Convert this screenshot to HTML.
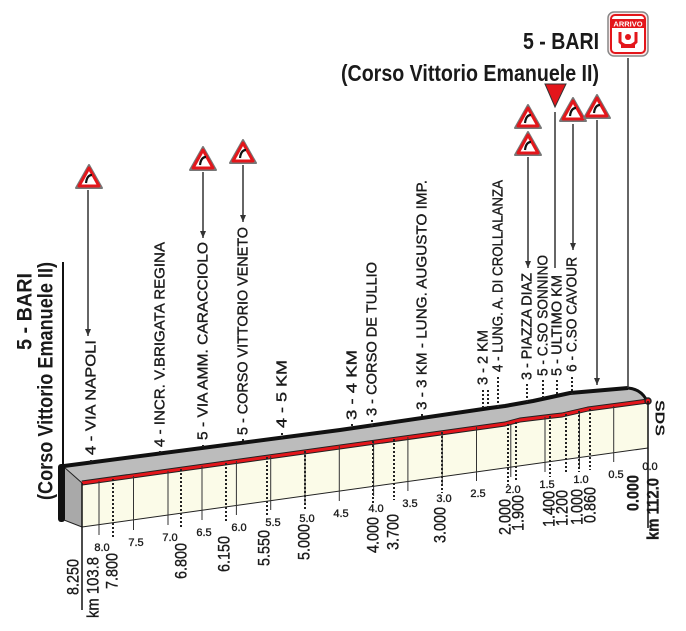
<!DOCTYPE html>
<html><head><meta charset="utf-8"><style>
html,body{margin:0;padding:0;background:#fff;}
svg{display:block;}
text{font-family:"Liberation Sans",sans-serif;fill:#1a1a1a;}
.t,.v,.k{stroke:#1a1a1a;stroke-width:0.35px;}
.t{font-size:15px;}
.v{font-size:17px;}
.k{font-size:11px;}
.b{font-weight:bold;}
</style></head><body>
<svg width="686" height="631" viewBox="0 0 686 631" xmlns="http://www.w3.org/2000/svg">
<defs>
<marker id="ar" markerWidth="7" markerHeight="6" refX="7" refY="3" orient="auto" markerUnits="userSpaceOnUse"><path d="M0,0 L7,3 L0,6 Z" fill="#333"/></marker>
<g id="sg">
<path d="M0,-13 L13,10 L-13,10 Z" fill="#fff" stroke="#777" stroke-width="2" stroke-linejoin="round"/>
<path d="M0,-10 L10,8 L-10,8 Z" fill="#fff" stroke="#e3161b" stroke-width="3" stroke-linejoin="round"/>
<path d="M-3,5 Q-2,-3 3,-3" fill="none" stroke="#111" stroke-width="2.2"/>
</g>
</defs>

<line x1="63" y1="262" x2="63" y2="466" stroke="#111" stroke-width="2"/>
<text class="b" transform="translate(25,350) rotate(-90)" font-size="21" textLength="77" lengthAdjust="spacingAndGlyphs" dominant-baseline="central">5 - BARI</text>
<text class="b" transform="translate(46,500) rotate(-90)" font-size="21" textLength="238" lengthAdjust="spacingAndGlyphs" dominant-baseline="central">(Corso Vittorio Emanuele II)</text>

<text class="b" x="523" y="49" font-size="23" textLength="76" lengthAdjust="spacingAndGlyphs">5 - BARI</text>
<text class="b" x="341" y="81" font-size="23" textLength="258" lengthAdjust="spacingAndGlyphs">(Corso Vittorio Emanuele II)</text>

<polygon points="82,483 505,424 520,420 553,416 562,415 588,409 648,401 648,448 82,527" fill="#fbfbe8"/>
<polygon points="64,466 340,430 490,408 505,406 533,401 570,393 628,388 640,391 648,400 588,409 562,415 553,416 520,420 505,424 82,483" fill="#bcbcbc"/>
<polygon points="64,467 82,483 82,527 64,520" fill="#a9a9a9" stroke="#222" stroke-width="1"/>
<rect x="58" y="464" width="7" height="58" rx="3" fill="#111"/>
<polyline points="64,466 340,430 490,408 505,406 533,401 570,393 628,388" fill="none" stroke="#111" stroke-width="4" stroke-linejoin="round"/>
<path d="M628,388 Q640,389 646,399" fill="none" stroke="#111" stroke-width="3"/>
<polyline points="82,483 505,424 520,420 553,416 562,415 588,409 648,401" fill="none" stroke="#222" stroke-width="5" stroke-linejoin="round"/>
<polyline points="82,483 505,424 520,420 553,416 562,415 588,409 648,401" fill="none" stroke="#e3161b" stroke-width="3" stroke-linejoin="round"/>
<circle cx="648" cy="401" r="3" fill="#e3161b" stroke="#222" stroke-width="1.5"/>
<line x1="82" y1="527" x2="648" y2="448" stroke="#222" stroke-width="1"/>
<line x1="82" y1="483" x2="82" y2="610" stroke="#111" stroke-width="1.5"/>
<line x1="648" y1="401" x2="648" y2="528" stroke="#111" stroke-width="1.5"/>

<g stroke="#333" stroke-width="1">
<line x1="99" y1="481" x2="99" y2="535"/><line x1="133.5" y1="476" x2="133.5" y2="530"/>
<line x1="168" y1="471" x2="168" y2="525"/><line x1="202" y1="466" x2="202" y2="520"/>
<line x1="236.4" y1="461" x2="236.4" y2="515"/><line x1="270.7" y1="456" x2="270.7" y2="510"/>
<line x1="305" y1="451" x2="305" y2="505"/><line x1="339.3" y1="446" x2="339.3" y2="501"/>
<line x1="373.6" y1="441" x2="373.6" y2="496"/><line x1="407.9" y1="437" x2="407.9" y2="491"/>
<line x1="442.2" y1="432" x2="442.2" y2="486"/><line x1="476.5" y1="427" x2="476.5" y2="481"/>
<line x1="510.8" y1="424" x2="510.8" y2="477"/><line x1="545" y1="417" x2="545" y2="472"/>
<line x1="579.4" y1="411" x2="579.4" y2="467"/><line x1="613.7" y1="406" x2="613.7" y2="462"/>
</g>
<g class="k" text-anchor="middle">
<text x="102" y="551">8.0</text><text x="136" y="546">7.5</text><text x="170" y="541">7.0</text>
<text x="204" y="536">6.5</text><text x="239" y="531">6.0</text><text x="273" y="526">5.5</text>
<text x="307" y="522">5.0</text><text x="341" y="517">4.5</text><text x="376" y="512">4.0</text>
<text x="410" y="507">3.5</text><text x="444" y="502">3.0</text><text x="478" y="497">2.5</text>
<text x="513" y="493">2.0</text><text x="547" y="488">1.5</text><text x="581" y="483">1.0</text>
<text x="616" y="478">0.5</text><text x="650" y="470">0.0</text>
</g>

<g stroke="#222" stroke-width="2" stroke-dasharray="2,2">
<line x1="113" y1="479" x2="113" y2="539"/><line x1="181" y1="469" x2="181" y2="529"/>
<line x1="226" y1="463" x2="226" y2="522"/><line x1="267" y1="457" x2="267" y2="516"/>
<line x1="305" y1="451" x2="305" y2="510"/><line x1="373" y1="441" x2="373" y2="503"/>
<line x1="394" y1="439" x2="394" y2="500"/><line x1="442" y1="432" x2="442" y2="493"/>
<line x1="508" y1="424" x2="508" y2="485"/><line x1="516" y1="422" x2="516" y2="481"/>
<line x1="550" y1="416" x2="550" y2="477"/><line x1="566" y1="414" x2="566" y2="474"/>
<line x1="579" y1="411" x2="579" y2="472"/><line x1="590" y1="409" x2="590" y2="470"/>
</g>

<g class="v" dominant-baseline="central">
<text transform="translate(73,595) rotate(-90)" textLength="36" lengthAdjust="spacingAndGlyphs">8.250</text>
<text transform="translate(93,618) rotate(-90)" textLength="61" lengthAdjust="spacingAndGlyphs">km 103.8</text>
<text transform="translate(112,589) rotate(-90)" textLength="36" lengthAdjust="spacingAndGlyphs">7.800</text>
<text transform="translate(181,579) rotate(-90)" textLength="36" lengthAdjust="spacingAndGlyphs">6.800</text>
<text transform="translate(224,572) rotate(-90)" textLength="36" lengthAdjust="spacingAndGlyphs">6.150</text>
<text transform="translate(264,566) rotate(-90)" textLength="36" lengthAdjust="spacingAndGlyphs">5.550</text>
<text transform="translate(304,560) rotate(-90)" textLength="36" lengthAdjust="spacingAndGlyphs">5.000</text>
<text transform="translate(373,553) rotate(-90)" textLength="36" lengthAdjust="spacingAndGlyphs">4.000</text>
<text transform="translate(393,550) rotate(-90)" textLength="36" lengthAdjust="spacingAndGlyphs">3.700</text>
<text transform="translate(440,543) rotate(-90)" textLength="36" lengthAdjust="spacingAndGlyphs">3.000</text>
<text transform="translate(505,535) rotate(-90)" textLength="36" lengthAdjust="spacingAndGlyphs">2.000</text>
<text transform="translate(518,531) rotate(-90)" textLength="36" lengthAdjust="spacingAndGlyphs">1.900</text>
<text transform="translate(549,527) rotate(-90)" textLength="36" lengthAdjust="spacingAndGlyphs">1.400</text>
<text transform="translate(562,526) rotate(-90)" textLength="36" lengthAdjust="spacingAndGlyphs">1.200</text>
<text transform="translate(577,525) rotate(-90)" textLength="36" lengthAdjust="spacingAndGlyphs">1.000</text>
<text transform="translate(590,523) rotate(-90)" textLength="36" lengthAdjust="spacingAndGlyphs">0.860</text>
<text class="b" transform="translate(633,511) rotate(-90)" textLength="36" lengthAdjust="spacingAndGlyphs">0.000</text>
<text class="b" transform="translate(653,540) rotate(-90)" textLength="62" lengthAdjust="spacingAndGlyphs">km 112.0</text>
</g>
<text class="b" transform="translate(660,400) rotate(90)" font-size="13" textLength="36" lengthAdjust="spacingAndGlyphs" dominant-baseline="central">SDS</text>

<g stroke="#222" stroke-width="2" stroke-dasharray="2,2">
<line x1="91" y1="460" x2="91" y2="463"/><line x1="160" y1="451" x2="160" y2="454"/>
<line x1="203" y1="445" x2="203" y2="448"/><line x1="243" y1="439" x2="243" y2="443"/>
<line x1="282" y1="433" x2="282" y2="438"/><line x1="352" y1="424" x2="352" y2="428"/>
<line x1="372" y1="420" x2="372" y2="426"/><line x1="422" y1="414" x2="422" y2="418"/>
<line x1="483" y1="390" x2="483" y2="409"/><line x1="488" y1="390" x2="488" y2="408"/>
<line x1="498" y1="377" x2="498" y2="407"/><line x1="527" y1="384" x2="527" y2="402"/>
<line x1="543" y1="380" x2="543" y2="399"/><line x1="557" y1="380" x2="557" y2="396"/>
<line x1="572" y1="377" x2="572" y2="394"/>
</g>

<g class="t" dominant-baseline="central">
<text transform="translate(91,455) rotate(-90)" textLength="115" lengthAdjust="spacingAndGlyphs">4 - VIA NAPOLI</text>
<text transform="translate(160,447) rotate(-90)" textLength="205" lengthAdjust="spacingAndGlyphs">4 - INCR. V.BRIGATA REGINA</text>
<text transform="translate(203,440) rotate(-90)" textLength="198" lengthAdjust="spacingAndGlyphs">5 - VIA AMM. CARACCIOLO</text>
<text transform="translate(243,435) rotate(-90)" textLength="208" lengthAdjust="spacingAndGlyphs">5 - CORSO VITTORIO VENETO</text>
<text transform="translate(282,428) rotate(-90)" textLength="68" lengthAdjust="spacingAndGlyphs">4 - 5 KM</text>
<text transform="translate(352,420) rotate(-90)" textLength="70" lengthAdjust="spacingAndGlyphs">3 - 4 KM</text>
<text transform="translate(372,416) rotate(-90)" textLength="154" lengthAdjust="spacingAndGlyphs">3 - CORSO DE TULLIO</text>
<text transform="translate(422,410) rotate(-90)" textLength="230" lengthAdjust="spacingAndGlyphs">3 - 3 KM - LUNG. AUGUSTO IMP.</text>
<text transform="translate(483,385) rotate(-90)" textLength="55" lengthAdjust="spacingAndGlyphs">3 - 2 KM</text>
<text transform="translate(498,372) rotate(-90)" textLength="192" lengthAdjust="spacingAndGlyphs">4 - LUNG. A. DI CROLLALANZA</text>
<text transform="translate(527,380) rotate(-90)" textLength="107" lengthAdjust="spacingAndGlyphs">3 - PIAZZA DIAZ</text>
<text transform="translate(543,376) rotate(-90)" textLength="121" lengthAdjust="spacingAndGlyphs">5 - C.SO SONNINO</text>
<text transform="translate(557,376) rotate(-90)" textLength="101" lengthAdjust="spacingAndGlyphs">5 - ULTIMO KM</text>
<text transform="translate(572,372) rotate(-90)" textLength="115" lengthAdjust="spacingAndGlyphs">6 - C.SO CAVOUR</text>
</g>

<g stroke="#333" stroke-width="1.5">
<line x1="88" y1="190" x2="88" y2="336" marker-end="url(#ar)"/>
<line x1="203" y1="172" x2="203" y2="238" marker-end="url(#ar)"/>
<line x1="243" y1="165" x2="243" y2="222" marker-end="url(#ar)"/>
<line x1="528" y1="157" x2="528" y2="268" marker-end="url(#ar)"/>
<line x1="555" y1="112" x2="555" y2="268"/>
<line x1="573" y1="124" x2="573" y2="250" marker-end="url(#ar)"/>
<line x1="597" y1="120" x2="597" y2="385" marker-end="url(#ar)"/>
<line x1="628" y1="58" x2="628" y2="388"/>
</g>
<use href="#sg" x="89" y="178"/>
<use href="#sg" x="203" y="160"/>
<use href="#sg" x="243" y="153"/>
<use href="#sg" x="528" y="118"/>
<use href="#sg" x="528" y="145"/>
<use href="#sg" x="573" y="111"/>
<use href="#sg" x="597" y="108"/>
<path d="M545,84 L566,84 L555,107 Z" fill="#e3161b" stroke="#333" stroke-width="1"/>

<rect x="608" y="12" width="40" height="44" rx="6" fill="#fde8e8" stroke="#888" stroke-width="1.5"/>
<rect x="611" y="15" width="34" height="38" rx="4" fill="#fff" stroke="#e3161b" stroke-width="2"/>
<rect x="612" y="19" width="32" height="9" fill="#e3161b"/>
<text x="628" y="26.5" font-size="7.5" text-anchor="middle" style="fill:#fff" font-weight="bold">ARRIVO</text>
<path d="M620,32 L620,42 Q628,50 636,42 L636,32" fill="none" stroke="#e3161b" stroke-width="3"/>
<circle cx="628" cy="37" r="3" fill="#e3161b"/>
<rect x="621" y="44" width="14" height="4" fill="#e3161b"/>
</svg>
</body></html>
